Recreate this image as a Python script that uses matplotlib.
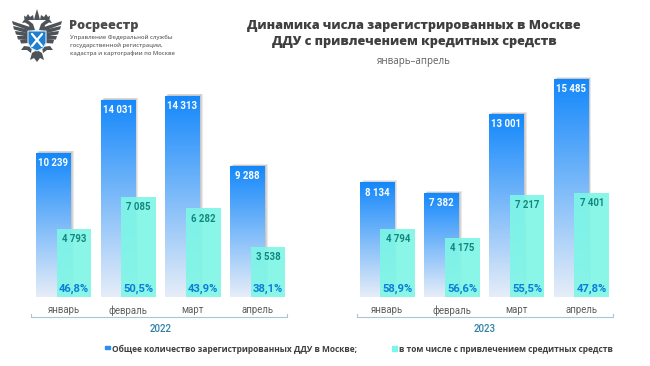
"""Динамика числа зарегистрированных ДДУ в Москве, январь-апрель 2022 и 2023."""

import matplotlib
matplotlib.use("Agg")
import matplotlib.patheffects as pe
import matplotlib.pyplot as plt
import numpy as np
from matplotlib.colors import LinearSegmentedColormap
from matplotlib.lines import Line2D
from matplotlib.patches import Polygon, Rectangle

W, H = 650, 366

months = ["январь", "февраль", "март", "апрель"]
total_2022 = [10239, 14031, 14313, 9288]
credit_2022 = [4793, 7085, 6282, 3538]
share_2022 = ["46,8%", "50,5%", "43,9%", "38,1%"]
total_2023 = [8134, 7382, 13001, 15485]
credit_2023 = [4794, 4175, 7217, 7401]
share_2023 = ["58,9%", "56,6%", "55,5%", "47,8%"]

BLUE_TOP = "#1488fb"
BLUE_BOTTOM = "#e6edf8"
TEAL = "#7df6e6"
LABEL_TEAL = "#12877f"
SHARE_BLUE = "#0a7fd6"
DARK = "#3f3f3f"
GREY = "#5f5f5f"
BAR_W = 0.535
OFFSET = 0.16
YMAX = 16000

plt.rcParams["font.family"] = ["Roboto", "DejaVu Sans"]
fig = plt.figure(figsize=(W / 100, H / 100), dpi=100, facecolor="white")
grad = LinearSegmentedColormap.from_list("bars", [BLUE_BOTTOM, BLUE_TOP])


def fx(x):
    return x / W


def fy(y):
    return 1 - y / H


def fmt(v):
    return f"{v:,}".replace(",", " ")


def add_panel(left, total, credit, share, year):
    # 64.7 px на месяц, базовая линия на y=296.7
    ax = fig.add_axes([fx(left), fy(296.7), 258.8 / W, 224.8 / H])
    ax.patch.set_alpha(0)
    xs = np.arange(len(months))
    for x, t, c, s in zip(xs, total, credit, share):
        x0 = x - OFFSET - BAR_W / 2
        shadow = [pe.SimplePatchShadow(offset=o, shadow_rgbFace="#777777", alpha=0.16)
                  for o in [(0.8, 0.6), (1.5, 1.0), (2.2, 1.4)]]
        rect = ax.bar(x - OFFSET, t, BAR_W, color="white", zorder=1,
                      path_effects=shadow + [pe.Normal()])[0]
        im = ax.imshow(np.linspace(1, 0, 128).reshape(-1, 1), cmap=grad, aspect="auto",
                       extent=(x0, x0 + BAR_W, 0, t), zorder=2, vmin=0, vmax=1)
        im.set_clip_path(rect)
        ax.bar(x + OFFSET, c, BAR_W, color=TEAL, alpha=0.9, zorder=3)
        ax.annotate(fmt(t), (x - OFFSET, t), xytext=(0, -7.3), textcoords="offset points",
                    ha="center", va="center", color="white", fontsize=6.9,
                    fontweight="bold", zorder=5)
        ax.annotate(fmt(c), (x + OFFSET, c), xytext=(0, -7.3), textcoords="offset points",
                    ha="center", va="center", color=LABEL_TEAL, fontsize=6.9,
                    fontweight="bold", zorder=5)
        ax.annotate(s, (x + OFFSET, 0), xytext=(0, 6), textcoords="offset points",
                    ha="center", va="center", color=SHARE_BLUE, fontsize=8.1,
                    fontweight="bold", zorder=5)
    ax.set_xlim(-0.5, 3.5)
    ax.set_ylim(0, YMAX)
    ax.set_yticks([])
    ax.set_xticks(xs)
    ax.set_xticklabels(months, fontsize=6.9, color=GREY)
    ax.tick_params(axis="x", length=0, pad=6)
    ax.set_xlabel(year, fontsize=7, color="#2f7fa5", fontweight="medium", labelpad=6)
    for spine in ax.spines.values():
        spine.set_visible(False)
    return ax


add_panel(31.15, total_2022, credit_2022, share_2022, "2022")
add_panel(355, total_2023, credit_2023, share_2023, "2023")

# скобки под месяцами
for x0, x1 in [(31.5, 287), (357, 613)]:
    fig.add_artist(Line2D([fx(x0), fx(x0), fx(x1), fx(x1)],
                          [fy(314), fy(317), fy(317), fy(314)],
                          color="#a9c6d4", lw=0.8))

# заголовок
fig.text(fx(414), fy(26), "Динамика числа зарегистрированных в Москве", ha="center", va="center",
         family="Open Sans", fontweight="heavy", fontsize=9.1, color=DARK)
fig.text(fx(414), fy(42), "ДДУ с привлечением кредитных средств", ha="center", va="center",
         family="Open Sans", fontweight="heavy", fontsize=9.1, color=DARK)
fig.text(fx(414), fy(61.5), "январь–апрель", ha="center", va="center",
         family="Open Sans", fontsize=7, color=GREY)

# шапка
fig.text(fx(69), fy(26), "Росреестр", ha="left", va="center", family="Open Sans",
         fontweight="heavy", fontsize=9.2, color="#4a4a4a")
for y, line in zip([37, 45, 53], ["Управление Федеральной службы",
                                  "государственной регистрации,",
                                  "кадастра и картографии по Москве"]):
    fig.text(fx(70), fy(y), line, ha="left", va="center", family="Open Sans",
             fontsize=4.2, color="#6a6a6a", fontweight="semibold")

# легенда
fig.add_artist(Rectangle((fx(105), fy(349)), 5 / W, 3 / H, color="#2a8ff0", transform=fig.transFigure))
fig.text(fx(112.5), fy(349), "Общее количество зарегистрированных ДДУ в Москве;", ha="left",
         va="center", family="Open Sans", fontweight="bold", fontsize=6.05, color=DARK)
fig.add_artist(Rectangle((fx(391.5), fy(351)), 5 / W, 5 / H, color=TEAL, transform=fig.transFigure))
fig.text(fx(399), fy(349), "в том числе с привлечением средитных средств", ha="left",
         va="center", family="Open Sans", fontweight="bold", fontsize=6.05, color=DARK)

# герб: схематичный двуглавый орёл
em = fig.add_axes([0, 1 - 70 / H, 70 / W, 70 / H])
em.set_xlim(0, 70)
em.set_ylim(70, 0)
em.axis("off")
CX = 37
EAGLE = "#4d5358"
for side in (-1, 1):
    def mirror(points):
        return [(CX + side * dx, y) for dx, y in points]

    # перья крыла
    for k, (dx, y0) in enumerate([(25, 21), (24, 26), (22, 31), (20, 36), (17, 40)]):
        em.add_patch(Polygon(mirror([(7, 27 + k * 3), (dx, y0), (dx - 1, y0 + 3.5), (7, 31 + k * 3)]),
                             color=EAGLE, lw=0))
    # шея и голова
    em.add_patch(Polygon(mirror([(2, 30), (4, 24), (9, 20), (13, 20), (15, 23), (12, 22.5),
                                 (8, 25), (7, 31)]), color=EAGLE, lw=0))
    # корона
    em.add_patch(Polygon(mirror([(3, 20), (4, 15), (7, 17), (9, 14), (11, 17), (13, 15.5),
                                 (12.5, 20)]), color=EAGLE, lw=0))
    # лапы и хвост
    em.add_patch(Polygon(mirror([(5, 47), (13, 46), (16, 50), (10, 50), (6, 53)]), color=EAGLE, lw=0))
    em.add_patch(Polygon(mirror([(0, 50), (5, 53), (7, 60), (3, 58), (0, 62)]), color=EAGLE, lw=0))
em.add_patch(Polygon([(CX - 1.5, 14), (CX, 9), (CX + 1.5, 14), (CX + 3, 20), (CX - 3, 20)], color=EAGLE, lw=0))
em.add_patch(Polygon([(CX - 9, 31), (CX + 9, 31), (CX + 9, 43), (CX + 6, 48), (CX, 51), (CX - 6, 48), (CX - 9, 43)],
                     facecolor="#1e7fd0", edgecolor="#d8eafa", lw=0.8))
em.plot([CX - 5, CX + 5], [34, 46], color="white", lw=1.6, solid_capstyle="round")
em.plot([CX + 5, CX - 5], [34, 46], color="white", lw=1.6, solid_capstyle="round")

fig.savefig("out.png", dpi=100, facecolor="white")
